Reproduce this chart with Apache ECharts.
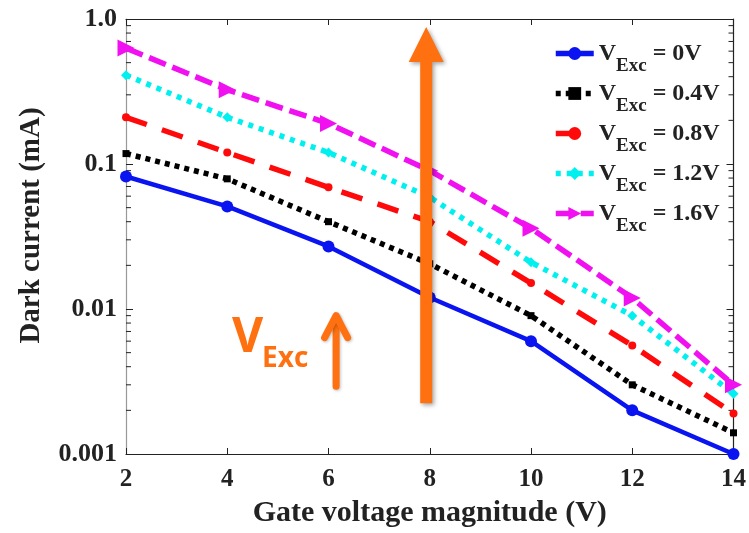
<!DOCTYPE html>
<html><head><meta charset="utf-8">
<script src="https://cdn.jsdelivr.net/npm/echarts@6/dist/echarts.min.js"></script>
<style>html,body{margin:0;padding:0;background:#fff}#c{width:749px;height:533px}</style>
</head><body><div id="c"></div>
<script>
// ---- data ----
const gateVoltage = [2, 4, 6, 8, 10, 12, 14];
const current0V   = [0.082, 0.051, 0.027, 0.0120, 0.0060, 0.0020, 0.0010];
const current04V  = [0.118, 0.079, 0.040, 0.0205, 0.0090, 0.0030, 0.0014];
const current08V  = [0.21, 0.12, 0.069, 0.040, 0.0151, 0.0056, 0.0019];
const current12V  = [0.41, 0.21, 0.12, 0.059, 0.021, 0.0090, 0.0026];
const current16V  = [0.63, 0.325, 0.19, 0.090, 0.036, 0.0119, 0.0030];
const seriesLabels = ['0V', '0.4V', '0.8V', '1.2V', '1.6V'];
const xTickValues = [2, 4, 6, 8, 10, 12, 14];
const yTickLabels = ['0.001', '0.01', '0.1', '1.0'];
const yMinorTickValues = [
  0.002, 0.003, 0.004, 0.005, 0.006, 0.007, 0.008, 0.009,
  0.02, 0.03, 0.04, 0.05, 0.06, 0.07, 0.08, 0.09,
  0.2, 0.3, 0.4, 0.5, 0.6, 0.7, 0.8, 0.9
];
const xTitle = 'Gate voltage magnitude (V)';
const yTitle = 'Dark current (mA)';
// annotations (data coordinates): [x, yFrom, yTo]
const bigArrow = [[7.93, 0.00224, 0.88]];
const smallArrow = [[6.15, 0.00293, 0.0093]];
const annotationAnchor = [[4.095, 0.00626]];

const FONT = '"Liberation Serif", "Times New Roman", serif';
const TXT = '#222';
const ORANGE = '#ff7010';

function pairs(vals) { return gateVoltage.map((x, i) => [x, vals[i]]); }

function lineSeries(name, vals, color, type, width, symbol, size, rotate) {
  return {
    type: 'line', name: name, data: pairs(vals),
    lineStyle: { color: color, width: width, type: type, cap: 'butt' },
    itemStyle: { color: color },
    symbol: symbol, symbolSize: size, symbolRotate: rotate || 0,
    showAllSymbol: true, z: 3
  };
}

const chart = echarts.init(document.getElementById('c'), null, { renderer: 'canvas' });

const axisCommonY = {
  type: 'log', logBase: 10, min: 0.001, max: 1,
  splitLine: { show: false },
  axisTick: { show: true, inside: true, length: 7, lineStyle: { color: TXT, width: 1 } },
  minorTick: { show: false },
  minorSplitLine: { show: false }
};

const option = {
  animation: false,
  backgroundColor: '#fff',
  grid: { left: 126, right: 10, top: 19, bottom: 77, containLabel: false },
  xAxis: [{
    type: 'value', min: 2, max: 14, interval: 2,
    name: xTitle, nameLocation: 'middle', nameGap: 44,
    nameTextStyle: { fontFamily: FONT, fontWeight: 'bold', fontSize: 30, color: TXT },
    axisLine: { show: true, onZero: false, lineStyle: { color: TXT, width: 1.2 } },
    axisTick: { show: true, inside: true, length: 6, lineStyle: { color: TXT } },
    axisLabel: { fontFamily: FONT, fontWeight: 'bold', fontSize: 25, color: TXT, margin: 13,
      formatter: v => String(xTickValues[xTickValues.indexOf(v)]) },
    splitLine: { show: false }
  }, {
    type: 'value', min: 2, max: 14, interval: 2, position: 'top',
    axisLine: { show: true, onZero: false, lineStyle: { color: TXT, width: 1.2 } },
    axisTick: { show: true, inside: true, length: 6, lineStyle: { color: TXT } },
    axisLabel: { show: false }, splitLine: { show: false }
  }],
  yAxis: [Object.assign({}, axisCommonY, {
    position: 'left',
    name: yTitle, nameLocation: 'middle', nameGap: 80, nameRotate: 90,
    nameTextStyle: { fontFamily: FONT, fontWeight: 'bold', fontSize: 29, color: TXT, padding: [0, 0, 0, 22] },
    axisLine: { show: true, onZero: false, lineStyle: { color: '#999', width: 1.2 } },
    axisLabel: { fontFamily: FONT, fontWeight: 'bold', fontSize: 26, color: TXT, margin: 9,
      formatter: v => yTickLabels[Math.round(Math.log10(v)) + 3] }
  }), Object.assign({}, axisCommonY, {
    position: 'right',
    axisLine: { show: true, onZero: false, lineStyle: { color: TXT, width: 1.2 } },
    axisLabel: { show: false }
  })],
  legend: {
    orient: 'vertical', left: 548, top: 26, itemWidth: 38, itemHeight: 16, itemGap: -5,
    padding: 5,
    lineStyle: { width: 5.5 },
    formatter: n => '{v|V}{s|Exc}{t| = ' + n + '}',
    textStyle: {
      color: TXT, fontFamily: FONT, fontWeight: 'bold',
      rich: {
        v: { fontFamily: FONT, fontWeight: 'bold', fontSize: 24, color: TXT, lineHeight: 24 },
        s: { fontFamily: FONT, fontWeight: 'bold', fontSize: 19, color: TXT, lineHeight: 20, padding: [26, 0, 0, 0] },
        t: { fontFamily: FONT, fontWeight: 'bold', fontSize: 24, color: TXT, lineHeight: 24 }
      }
    }
  },
  series: [
    lineSeries(seriesLabels[0], current0V, '#0a14f0', 'solid', 4.5, 'circle', 12),
    lineSeries(seriesLabels[1], current04V, '#000000', [5, 5], 5.5, 'rect', 7),
    lineSeries(seriesLabels[2], current08V, '#ff0a0a', [22, 16], 5.5, 'circle', 8),
    lineSeries(seriesLabels[3], current12V, '#00f0f0', [5, 6], 5.5, 'diamond', 10),
    lineSeries(seriesLabels[4], current16V, '#f010f0', [18, 7], 5.5, 'triangle', 17, -90),
    {
      type: 'custom', name: 'minorTicks', data: yMinorTickValues.map(v => [2, v]), z: 1, clip: false,
      encode: { x: 0, y: 1 }, silent: true,
      renderItem: function (params, api) {
        const v = api.value(1);
        const pl = api.coord([2, v]);
        const pr = api.coord([14, v]);
        const st = { stroke: TXT, lineWidth: 1 };
        return { type: 'group', children: [
          { type: 'line', shape: { x1: pl[0], y1: pl[1], x2: pl[0] + 5, y2: pl[1] }, style: st },
          { type: 'line', shape: { x1: pr[0], y1: pr[1], x2: pr[0] - 5, y2: pr[1] }, style: st }
        ] };
      }
    },
    {
      type: 'custom', name: 'bigArrow', data: bigArrow, z: 10, clip: false,
      encode: { x: 0, y: [1, 2] }, silent: true,
      renderItem: function (params, api) {
        const x = api.value(0);
        const pb = api.coord([x, api.value(1)]);
        const pt = api.coord([x, api.value(2)]);
        const sw = 6, hw = 17.5, hl = 35;
        return {
          type: 'polygon',
          shape: { points: [[pb[0] - sw, pb[1]], [pb[0] - sw, pt[1] + hl], [pb[0] - hw, pt[1] + hl], [pt[0], pt[1]],
            [pb[0] + hw, pt[1] + hl], [pb[0] + sw, pt[1] + hl], [pb[0] + sw, pb[1]]] },
          style: { fill: ORANGE, shadowBlur: 4, shadowOffsetX: 2, shadowOffsetY: 2, shadowColor: 'rgba(0,0,0,0.35)' }
        };
      }
    },
    {
      type: 'custom', name: 'smallArrow', data: smallArrow, z: 10, clip: false,
      encode: { x: 0, y: [1, 2] }, silent: true,
      renderItem: function (params, api) {
        const x = api.value(0);
        const pb = api.coord([x, api.value(1)]);
        const pt = api.coord([x, api.value(2)]);
        const st = { stroke: ORANGE, lineWidth: 7, lineCap: 'round', lineJoin: 'round', fill: null,
          shadowBlur: 3, shadowOffsetX: 1, shadowOffsetY: 1, shadowColor: 'rgba(0,0,0,0.25)' };
        return {
          type: 'group', children: [
            { type: 'polyline', shape: { points: [[pb[0], pb[1]], [pt[0], pt[1] + 4]] }, style: st },
            { type: 'polyline', shape: { points: [[pt[0] - 11.5, pt[1] + 24], [pt[0], pt[1] + 2], [pt[0] + 11.5, pt[1] + 24]] }, style: st }
          ]
        };
      }
    },
    {
      type: 'custom', name: 'vexcText', data: annotationAnchor, z: 10, clip: false,
      encode: { x: 0, y: 1 }, silent: true,
      renderItem: function (params, api) {
        const p = api.coord([api.value(0), api.value(1)]);
        return {
          type: 'group', children: [
            { type: 'text', x: p[0], y: p[1],
              style: { text: 'V', fontFamily: '"Open Sans"', fontWeight: 'bold', fontSize: 48, fill: ORANGE, align: 'left', verticalAlign: 'middle' } },
            { type: 'text', x: p[0] + 30, y: p[1] + 21,
              style: { text: 'Exc', fontFamily: '"Open Sans"', fontWeight: 'bold', fontSize: 28, fill: ORANGE, align: 'left', verticalAlign: 'middle' } }
          ]
        };
      }
    }
  ]
};
option.legend.data = seriesLabels;
chart.setOption(option);
</script>
</body></html>
